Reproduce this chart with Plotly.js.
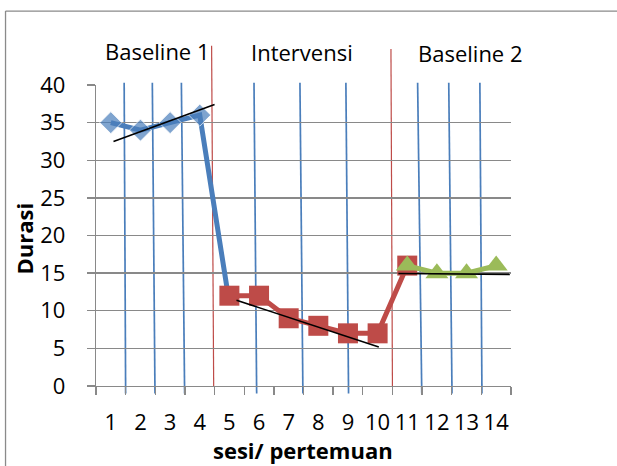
<!DOCTYPE html>
<html>
<head>
<meta charset="utf-8">
<script src="https://cdn.plot.ly/plotly-3.0.1.min.js"></script>
<style>html,body{margin:0;padding:0;background:#fff;overflow:hidden;width:617px;height:466px;}#chart{width:617px;height:466px;overflow:hidden;}</style>
</head>
<body>
<div id="chart"></div>
<script>
// ---- data ----
const sessions = ['1','2','3','4','5','6','7','8','9','10','11','12','13','14'];
const yTicks = [0,5,10,15,20,25,30,35,40];

const baseline1X = ['1','2','3','4','5'];
const baseline1Y = [35,34,35,36,11];
const interventionX = ['5','6','7','8','9','10','11'];
const interventionY = [12,12,9,8,7,7,16];
const baseline2X = ['11','12','13','14'];
const baseline2Y = [16,15,15,16];

const phaseLabels = ['Baseline 1','Intervensi','Baseline 2'];

// hand-drawn phase dividers (session units)
const dividerTopX = [4.40, 10.45];
const dividerBottomX = [4.47, 10.50];
const dividerTopY = [45.2, 44.8];
const dividerBottomY = [0, 0];

// hand-drawn blue vertical guide lines (session units)
const guideTopX = [1.45, 2.40, 3.38, 5.83, 7.38, 8.93, 11.35, 12.40, 13.45];
const guideBottomX = [1.50, 2.49, 3.49, 5.92, 7.48, 9.02, 11.49, 12.51, 13.52];
const guideTopY = 40.3;
const guideBottomY = -1.0;

// hand-drawn trend lines
const trend1X = [1.09, 4.50];  const trend1Y = [32.5, 37.4];
const trend2X = [5.24, 10.04]; const trend2Y = [11.4, 5.17];
const trend3X = [10.70, 14.46]; const trend3Y = [14.96, 14.83];

// ---- chart ----
const yRange = [0, 40];
const toPaperY = v => (v - yRange[0]) / (yRange[1] - yRange[0]);
const idx = s => s - 1; // session number -> category index

const FONT = 'Open Sans, Liberation Sans, Arial, sans-serif';
const BLUE = '#4A7EBB', RED = '#BE4B48', GREEN = '#9BBB59', GRID = '#898989';

const traces = [
  {x: baseline1X, y: baseline1Y, type: 'scatter', mode: 'lines+markers',
   line: {color: BLUE, width: 5},
   marker: {symbol: 'diamond', color: BLUE, size: baseline1Y.map((v, i) => i < 4 ? 17 : 0)},
   showlegend: false},
  {x: interventionX, y: interventionY, type: 'scatter', mode: 'lines+markers',
   line: {color: RED, width: 5},
   marker: {symbol: 'square', color: RED, size: 20},
   showlegend: false},
  {x: baseline2X, y: baseline2Y, type: 'scatter', mode: 'lines+markers',
   line: {color: GREEN, width: 5},
   marker: {symbol: 'triangle-up', color: GREEN, size: 20},
   showlegend: false}
];

const shapes = [];
// chart border: only top and left edges are visible in the reference
shapes.push({type: 'line', xref: 'paper', yref: 'paper', x0: -0.218, x1: 1.30, y0: 1.2455, y1: 1.2455,
  line: {color: '#8a8a8a', width: 1.3}, layer: 'below'});
shapes.push({type: 'line', xref: 'paper', yref: 'paper', x0: -0.218, x1: -0.218, y0: 1.2455, y1: -0.27,
  line: {color: '#8a8a8a', width: 1.3}, layer: 'below'});
guideTopX.forEach((t, i) => {
  shapes.push({type: 'line', xref: 'x', yref: 'paper',
    x0: idx(t), y0: toPaperY(guideTopY), x1: idx(guideBottomX[i]), y1: toPaperY(guideBottomY),
    line: {color: BLUE, width: 1.7}, layer: 'below'});
});
dividerTopX.forEach((t, i) => {
  shapes.push({type: 'line', xref: 'x', yref: 'paper',
    x0: idx(t), y0: toPaperY(dividerTopY[i]), x1: idx(dividerBottomX[i]), y1: toPaperY(dividerBottomY[i]),
    line: {color: RED, width: 1.2}, layer: 'below'});
});
[[trend1X, trend1Y], [trend2X, trend2Y], [trend3X, trend3Y]].forEach(([tx, ty]) => {
  shapes.push({type: 'line', xref: 'x', yref: 'y',
    x0: idx(tx[0]), y0: ty[0], x1: idx(tx[1]), y1: ty[1],
    line: {color: '#000', width: 1.6}, layer: 'above'});
});

const annotations = [
  {text: phaseLabels[0], xref: 'paper', yref: 'paper', x: 0.1482, y: 1.1136},
  {text: phaseLabels[1], xref: 'paper', yref: 'paper', x: 0.4952, y: 1.109},
  {text: phaseLabels[2], xref: 'paper', yref: 'paper', x: 0.9036, y: 1.1056},
  {text: '<b>Durasi</b>', xref: 'paper', yref: 'paper', x: -0.1723, y: 0.4917, textangle: -90},
  {text: '<b>sesi/ pertemuan</b>', xref: 'paper', yref: 'paper', x: 0.4988, y: -0.266, yanchor: 'bottom'}
].map(a => Object.assign({showarrow: false, xanchor: 'center', yanchor: 'middle', borderpad: 0,
  font: {family: FONT, size: 22, color: '#000'}}, a));

const layout = {
  width: 617, height: 466,
  margin: {l: 96, r: 106, t: 85, b: 80, pad: 0},
  paper_bgcolor: '#fff', plot_bgcolor: 'rgba(0,0,0,0)',
  showlegend: false,
  font: {family: FONT, size: 22, color: '#000'},
  xaxis: {
    type: 'category', categoryorder: 'array', categoryarray: sessions,
    range: [-0.5, 13.5], tickson: 'boundaries', tickangle: 0,
    showgrid: false, zeroline: false,
    showline: true, linecolor: GRID, linewidth: 1.3,
    ticks: 'outside', ticklen: 8, tickcolor: GRID, tickwidth: 1.3,
    ticklabelstandoff: 16,
    tickfont: {family: FONT, size: 22, color: '#000'},
    fixedrange: true
  },
  yaxis: {
    range: yRange, tickvals: yTicks,
    showgrid: true, gridcolor: GRID, gridwidth: 1.3, zeroline: false,
    showline: true, linecolor: GRID, linewidth: 1.3,
    ticks: 'outside', ticklen: 8, tickcolor: GRID, tickwidth: 1.3,
    ticklabelposition: 'outside', ticklabelstandoff: 17,
    tickfont: {family: FONT, size: 22, color: '#000'},
    fixedrange: true
  },
  shapes: shapes,
  annotations: annotations
};

Plotly.newPlot('chart', traces, layout, {staticPlot: true, displayModeBar: false});
</script>
</body>
</html>
